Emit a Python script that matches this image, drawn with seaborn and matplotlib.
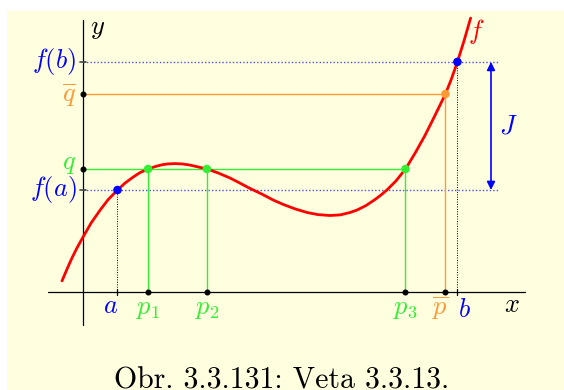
import matplotlib
matplotlib.use("Agg")
import matplotlib.pyplot as plt
import seaborn as sns
import pandas as pd

# hodnoty odčítané z obrázka
curve_x = [-0.70, -0.53, -0.37, -0.20, 0.00, 0.27, 0.57, 0.83, 1.15, 1.40, 1.67, 1.90, 2.17,
           2.40, 2.63, 2.83, 3.07, 3.30, 3.57, 3.83, 4.13, 4.50, 4.90, 5.23, 5.57, 5.97,
           6.33, 6.67, 7.07, 7.47, 7.83, 8.23, 8.57, 8.90, 9.13, 9.43, 9.73, 9.93, 10.13,
           10.43, 10.75, 11.07, 11.40, 11.73, 12.08, 12.28, 12.48, 12.70, 12.92]
curve_y = [0.37, 0.77, 1.13, 1.47, 1.83, 2.30, 2.73, 3.07, 3.40, 3.63, 3.83, 3.98, 4.10,
           4.18, 4.24, 4.27, 4.28, 4.27, 4.23, 4.17, 4.10, 3.97, 3.80, 3.63, 3.45, 3.26,
           3.07, 2.92, 2.77, 2.65, 2.58, 2.55, 2.57, 2.65, 2.73, 2.88, 3.08, 3.23, 3.40,
           3.70, 4.10, 4.63, 5.22, 5.88, 6.60, 7.10, 7.67, 8.37, 9.13]

a, b = 1.15, 12.48
fa, fb = 3.40, 7.67
q, qbar = 4.10, 6.60
p_green = [2.17, 4.13, 10.75]
p_green_labels = [r"$p_1$", r"$p_2$", r"$p_3$"]
pbar = 12.08

RED = "#ff0000"
GREEN = "#33ee33"
ORANGE = "#ff9933"
BLUE = "#0000ff"
LBLUE = "#4d4dff"

sns.set_style("white")
plt.rcParams["mathtext.fontset"] = "cm"

fig = plt.figure(figsize=(5.64, 3.90), dpi=100)
fig.patch.set_facecolor("white")
# žltá plocha začína 7 px zľava a 11 px zhora
ax = fig.add_axes([7 / 564, 0, 557 / 564, 379 / 390])
ax.set_facecolor("#ffffe0")
ax.set_xlim((7 - 83) / 30, (564 - 83) / 30)
ax.set_ylim(-98 / 30, (292 - 11) / 30)
for s in ax.spines.values():
    s.set_visible(False)
ax.set_xticks([])
ax.set_yticks([])

# osi
ax.plot([-35 / 30, 442 / 30], [0, 0], color="black", lw=0.9, zorder=2)
ax.plot([0, 0], [-33 / 30, 272 / 30], color="black", lw=0.9, zorder=2)

# vodorovné čiary
xr = 13.87
ax.plot([0, xr], [fb, fb], color=LBLUE, lw=1.0, ls=(0, (1, 1.5)), zorder=3)
ax.plot([0, xr], [fa, fa], color=LBLUE, lw=1.0, ls=(0, (1, 1.5)), zorder=3)
ax.plot([0, pbar], [qbar, qbar], color=ORANGE, lw=1.0, zorder=3)
ax.plot([0, p_green[-1]], [q, q], color=GREEN, lw=1.0, zorder=3)

# zvislé čiary
for p in p_green:
    ax.plot([p, p], [0, q], color=GREEN, lw=1.0, zorder=3)
ax.plot([pbar, pbar], [0, qbar], color=ORANGE, lw=1.0, zorder=3)
ax.plot([a, a], [0, fa], color="black", lw=0.7, ls=(0, (1, 1.5)), zorder=3)
ax.plot([b, b], [0, fb], color="black", lw=0.7, ls=(0, (1, 1.5)), zorder=3)

# krivka f
df = pd.DataFrame({"x": curve_x, "y": curve_y})
sns.lineplot(data=df, x="x", y="y", sort=False, color=RED, lw=2.0, ax=ax, zorder=5)

# body na krivke
pts = pd.DataFrame({
    "x": [a, b] + p_green + [pbar],
    "y": [fa, fb, q, q, q, qbar],
    "c": ["b", "b", "g", "g", "g", "o"],
})
sns.scatterplot(data=pts, x="x", y="y", hue="c", palette={"b": BLUE, "g": GREEN, "o": ORANGE},
                s=38, edgecolor="none", legend=False, ax=ax, zorder=6)
ax.set_xlabel("")
ax.set_ylabel("")

# malé body a značky na osiach
ax.scatter(p_green + [pbar], [0] * 4, s=11, color="black", zorder=7)
ax.scatter([0, 0], [q, qbar], s=11, color="black", zorder=7)
tk = 0.1
for xv in [a, b]:
    ax.plot([xv, xv], [-tk, tk], color="black", lw=0.9, zorder=7)
for yv in [fa, fb]:
    ax.plot([-tk, tk], [yv, yv], color="#444444", lw=1.2, zorder=7)

# šípka J
ax.annotate("", xy=(13.6, fb), xytext=(13.6, fa),
            arrowprops=dict(arrowstyle="<|-|>", color=BLUE, lw=1.2, mutation_scale=12,
                            shrinkA=0, shrinkB=0))

fs = 19
ax.text(14.17, 5.5, r"$J$", color=BLUE, fontsize=fs, ha="center", va="center")
ax.text(0.5, 8.8, r"$y$", color="black", fontsize=fs, ha="center", va="center")
ax.text(14.3, -0.45, r"$x$", color="black", fontsize=fs, ha="center", va="center")
ax.text(13.1, 8.7, r"$f$", color=RED, fontsize=fs, ha="center", va="center")

ax.text(-0.22, fb, r"$f(b)$", color=BLUE, fontsize=fs, ha="right", va="center")
ax.text(-0.22, fa, r"$f(a)$", color=BLUE, fontsize=fs, ha="right", va="center")
ax.text(-0.45, qbar - 0.05, r"$\overline{q}$", color=ORANGE, fontsize=fs, ha="center", va="center")
ax.text(-0.45, q + 0.2, r"$q$", color=GREEN, fontsize=fs, ha="center", va="center")

ax.text(0.93, -0.47, r"$a$", color=BLUE, fontsize=fs, ha="center", va="center")
for p, lab in zip(p_green, p_green_labels):
    ax.text(p, -0.53, lab, color=GREEN, fontsize=fs, ha="center", va="center")
ax.text(11.9, -0.55, r"$\overline{p}$", color=ORANGE, fontsize=fs, ha="center", va="center")
ax.text(12.7, -0.6, r"$b$", color=BLUE, fontsize=fs, ha="center", va="center")

# popis obrázka (v origináli je odrezaný spodným okrajom)
fig.text(282 / 564, 1 - 367 / 390, "Obr. 3.3.131: Veta 3.3.13.", family="cmr10",
         fontsize=21.5, ha="center", va="top", color="black")

fig.savefig("out.png", dpi=100, facecolor=fig.get_facecolor())
